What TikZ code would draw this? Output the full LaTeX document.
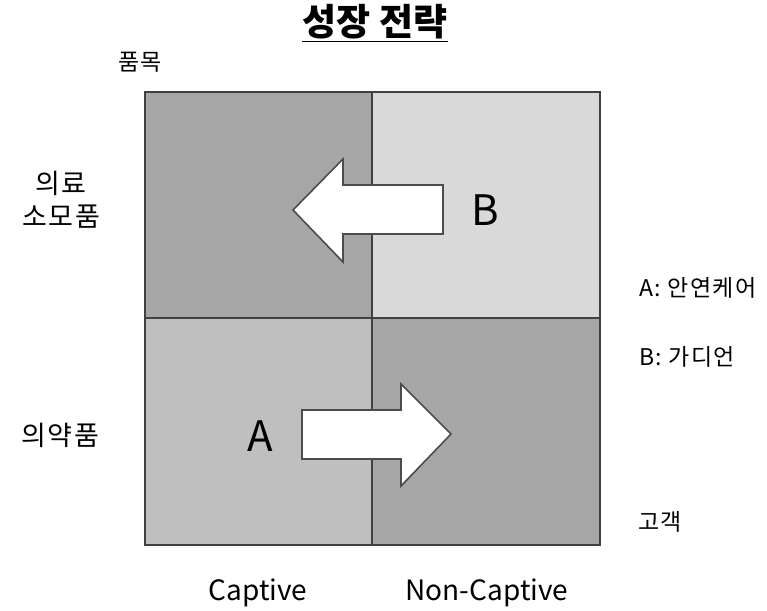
\documentclass[tikz,border=0pt]{standalone}
\usepackage{fontspec}
\setmainfont{Noto Sans CJK KR}
\newfontfamily\spaced[LetterSpace=6]{Noto Sans CJK KR}
\begin{document}
\begin{tikzpicture}[x=1pt,y=-1pt,
  cell/.style={draw=black!75,line width=2.2pt},
  bigarrow/.style={draw=black!70,line width=1.6pt,fill=white,line join=miter},
  lbl/.style={inner sep=0pt,font=\spaced\fontsize{27}{33}\selectfont},
  axis/.style={inner sep=0pt,font=\fontsize{28}{33}\selectfont},
  small/.style={inner sep=0pt,font=\spaced\fontsize{23}{27}\selectfont},
  letter/.style={inner sep=0pt,font=\fontsize{42}{46}\selectfont}]
\useasboundingbox (0,0) rectangle (767,610);
\definecolor{dk}{HTML}{A6A6A6}
\definecolor{lt}{HTML}{D9D9D9}
\definecolor{md}{HTML}{BFBFBF}
% cells
\path[fill=dk] (145,92) rectangle (372,318);
\path[fill=lt] (372,92) rectangle (600,318);
\path[fill=md] (145,318) rectangle (372,545);
\path[fill=dk] (372,318) rectangle (600,545);
\draw[cell] (145,92) rectangle (600,545);
\draw[cell] (372,92) -- (372,545);
\draw[cell] (145,318) -- (600,318);
% arrow B (left)
\draw[bigarrow] (443,185) -- (343,185) -- (343,159) -- (293,210) -- (343,262) -- (343,234) -- (443,234) -- cycle;
% arrow A (right)
\draw[bigarrow] (302,410) -- (401,410) -- (401,384) -- (451,434) -- (401,486) -- (401,459) -- (302,459) -- cycle;
% texts
\node[inner sep=0pt,font=\fontsize{37}{40}\selectfont\bfseries] (title) at (375,22) {성장 전략};
\draw[line width=1.8pt] (title.south west) ++(0,2) coordinate (ul1) -- (ul1 -| title.south east);
\node[small] (pm) at (140,62) {품목};
\node[lbl,align=center] (med) at (61,200) {의료\\소모품};
\node[lbl] (drug) at (60,435) {의약품};
\node[letter] (A) at (260,436) {A};
\node[letter] (B) at (485,210) {B};
\node[small,anchor=west] (la) at (639,288) {A: 안연케어};
\node[small,anchor=west] (lb) at (639,357) {B: 가디언};
\node[small] (cust) at (660,522) {고객};
\node[axis] (cap) at (258,593) {Captive};
\node[axis] (ncap) at (487,593) {Non-Captive};
\end{tikzpicture}
\end{document}
